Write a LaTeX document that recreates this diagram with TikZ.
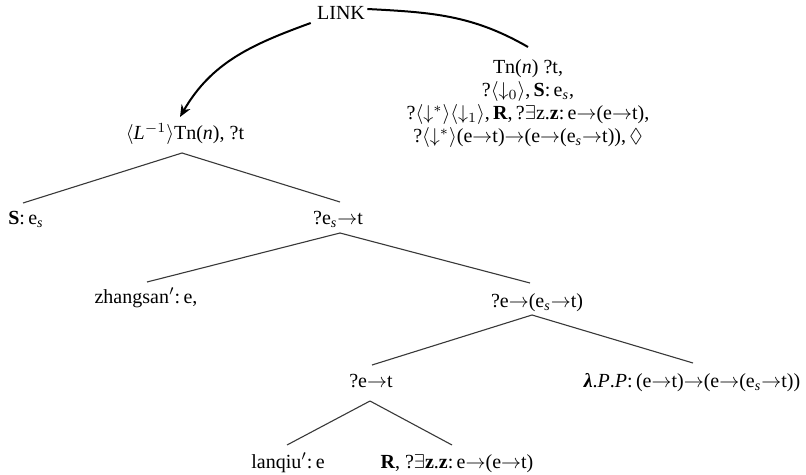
\documentclass[tikz,border=0pt]{standalone}
\usepackage{amssymb}
\usepackage{fontspec}
\setmainfont{Liberation Serif}
\usetikzlibrary{arrows.meta}
\newcommand{\rto}{\ensuremath{\rightarrow}}
\newcommand{\esb}{e\textsubscript{\textit{s}}}
\newcommand{\prm}{\ensuremath{'}}
\begin{document}
\begin{tikzpicture}[x=0.5pt,y=-0.5pt,
  lbl/.style={anchor=base,inner sep=0pt,font=\fontsize{10}{11.5}\selectfont},
  branch/.style={draw=black!78,line width=0.55pt},
  linkarc/.style={draw=black,line width=1pt}]
\useasboundingbox (0,0) rectangle (806,475);

\node[lbl] (link) at (341,20) {LINK};
\node[lbl,anchor=north,align=center] (rt) at (528,59)
  {Tn(\textit{n}) ?t,\\
   ?$\langle\downarrow_0\rangle$,\,\textbf{S}:\,\esb,\\
   ?$\langle\downarrow^*\rangle\langle\downarrow_1\rangle$,\,\textbf{R},\,?$\exists$z.\textbf{z}:\,e\rto(e\rto t),\\
   ?$\langle\downarrow^*\rangle$(e\rto t)\rto(e\rto(\esb\rto t)),\,$\Diamond$};

\node[lbl] (root) at (185,140) {$\langle$\textit{L}$^{-1}\rangle$Tn(\textit{n}), ?t};
\node[lbl] (S) at (26,225) {\textbf{S}:\,\esb};
\node[lbl] (q1) at (338,225) {?\esb\rto t};
\node[lbl] (zh) at (146,303) {zhangsan\prm:\,e,};
\node[lbl] (q2) at (537,307) {?e\rto(\esb\rto t)};
\node[lbl] (q3) at (371,387) {?e\rto t};
\node[lbl] (lam) at (692,387) {\textbf{\textit{λ}}.\textit{P}.\textit{P}:\,(e\rto t)\rto(e\rto(\esb\rto t))};
\node[lbl] (lq) at (288,468) {lanqiu\prm:\,e};
\node[lbl] (R) at (457,468) {\textbf{R}, ?$\exists$\textbf{z}.\textbf{z}:\,e\rto(e\rto t)};

\draw[linkarc,-{Stealth[length=6pt,width=5pt]}]
  ([xshift=-3pt,yshift=-1.5pt]link.base west) to[out=200,in=60]
  ([xshift=-2.5pt,yshift=11.5pt]root.base);
\draw[linkarc]
  ([xshift=1pt,yshift=5.5pt]link.base east) to[out=-3,in=150]
  ([yshift=6pt]rt.north);

\draw[branch] ([xshift=-1.5pt,yshift=-6.5pt]root.base) -- ([xshift=-1.5pt,yshift=11pt]S.base);
\draw[branch] ([xshift=-1.5pt,yshift=-6.5pt]root.base) -- ([xshift=1pt,yshift=11.5pt]q1.base);
\draw[branch] ([xshift=1pt,yshift=-4pt]q1.base) -- ([xshift=0.5pt,yshift=10.5pt]zh.base);
\draw[branch] ([xshift=1pt,yshift=-4pt]q1.base) -- ([xshift=-3.5pt,yshift=12pt]q2.base);
\draw[branch] ([xshift=-2.5pt,yshift=-4pt]q2.base) -- ([xshift=0.5pt,yshift=11pt]q3.base);
\draw[branch] ([xshift=-2.5pt,yshift=-4pt]q2.base) -- ([xshift=0.5pt,yshift=12pt]lam.base);
\draw[branch] ([xshift=-0.5pt,yshift=-7pt]q3.base) -- ([xshift=-0.5pt,yshift=11.5pt]lq.base);
\draw[branch] ([xshift=-0.5pt,yshift=-7pt]q3.base) -- ([xshift=-2.5pt,yshift=11.5pt]R.base);
\end{tikzpicture}
\end{document}
